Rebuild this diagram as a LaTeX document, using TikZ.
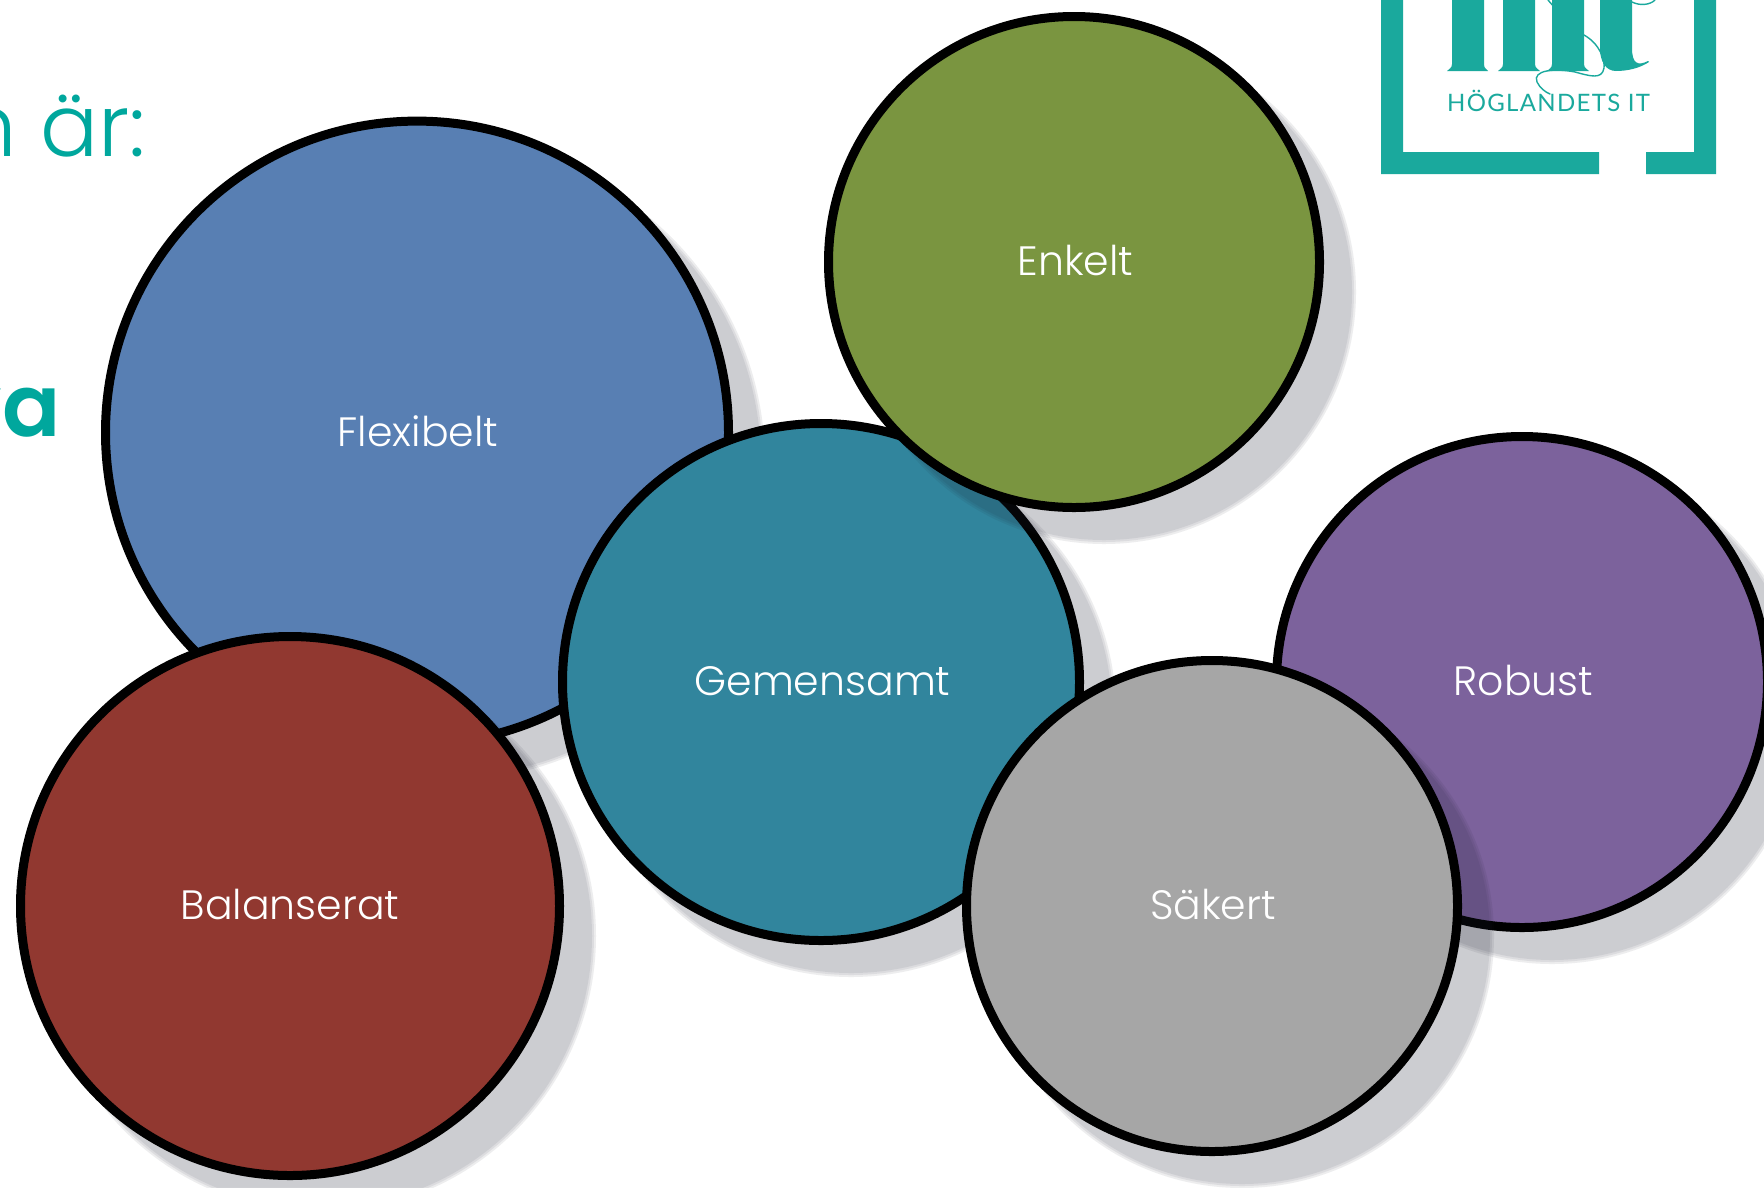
\documentclass[tikz,border=0pt]{standalone}
\usepackage{fontspec}
\setmainfont{Poppins}[UprightFont=* Light,BoldFont=* SemiBold]
\newfontfamily\logofont[LetterSpace=5.5]{Lato}
\definecolor{flexcol}{HTML}{587FB3}
\definecolor{balcol}{HTML}{913830}
\definecolor{gemcol}{HTML}{31859D}
\definecolor{enkcol}{HTML}{7A9540}
\definecolor{robcol}{HTML}{7C629C}
\definecolor{sakcol}{HTML}{A6A6A6}
\definecolor{titlecol}{HTML}{00A79D}
\definecolor{logocol}{HTML}{1AA99D}
\definecolor{shadowcol}{HTML}{1C2032}
\tikzset{
  bubble/.style={circle,draw=black,line width=9pt,inner sep=0pt,text=white,text height=27pt,text depth=0pt,font=\fontsize{41}{44}\selectfont},
  bubbleshadow/.style={fill=shadowcol,fill opacity=.08,draw=none},
  titletext/.style={text=titlecol,inner sep=0pt,anchor=base east},
  logopart/.style={fill=logocol,draw=none},
  logoline/.style={draw=logocol,line width=1.4pt,line cap=round}
}
\newcommand{\shadowed}[6]{%
  \fill[bubbleshadow] (#2+30,#3+30) circle[radius=#4+6.5];
  \fill[bubbleshadow] (#2+30,#3+30) circle[radius=#4+4.5];
  \fill[bubbleshadow] (#2+30,#3+30) circle[radius=#4+2.5];
  \node[bubble,fill=#5,minimum size=2*#4] (#1) at (#2,#3) {#6};
}
\begin{document}
\begin{tikzpicture}[x=1pt,y=-1pt]
\useasboundingbox (0,0) rectangle (1764,1187);
\clip (0,0) rectangle (1764,1187);
\fill[white] (0,0) rectangle (1764,1187);
% title fragments
\node[titletext,font=\fontsize{86}{90}\selectfont] (title1) at (146,156) {n är:};
\node[titletext,font=\fontsize{86}{90}\bfseries] (title2) at (58,436) {\kern-3pt va\kern-3pt};
% logo
\fill[logopart] (1381,0) -- (1403,0) -- (1403,152) -- (1599,152) -- (1599,174) -- (1381,174) -- cycle;
\fill[logopart] (1694,0) -- (1716,0) -- (1716,174) -- (1646,174) -- (1646,152) -- (1694,152) -- cycle;
\fill[logopart] (1452,0) -- (1484,0) -- (1484,64) .. controls (1484,68) and (1486,69) .. (1488,71) -- (1447,71) .. controls (1449,69) and (1452,68) .. (1452,64) -- cycle;
\fill[logopart] (1503,0) -- (1535,0) -- (1535,64) .. controls (1535,68) and (1538,69) .. (1540,71) -- (1498,71) .. controls (1500,69) and (1503,68) .. (1503,64) -- cycle;
\fill[logopart] (1552,0) -- (1584,0) -- (1584,64) .. controls (1584,68) and (1587,69) .. (1589,71) -- (1547,71) .. controls (1549,69) and (1552,68) .. (1552,64) -- cycle;
\fill[logopart] (1600,0) -- (1632,0) -- (1632,48) .. controls (1632,64) and (1638,66) .. (1648,61) -- (1649,62) .. controls (1640,68) and (1628,71) .. (1616,71) .. controls (1606,71) and (1600,62) .. (1600,48) -- cycle;
\draw[logoline] (1548,0) .. controls (1550,2) and (1552,5) .. (1555,8);
\draw[logoline] (1632,2) .. controls (1640,6) and (1650,5) .. (1655,0);
\draw[logoline] (1584,35) .. controls (1600,44) and (1605,60) .. (1604,68) .. controls (1602,80) and (1590,76) .. (1575,72) .. controls (1555,68) and (1532,70) .. (1537,82) .. controls (1540,88) and (1545,92) .. (1550,94);
\node[text=logocol,inner sep=0pt,anchor=base,font=\logofont\fontsize{24}{26}\selectfont] (logotext) at (1548.5,111) {HÖGLANDETS IT};
% bubbles
\shadowed{flex}{417}{432.6}{311.5}{flexcol}{\kern2pt Flexibelt}
\shadowed{gem}{821}{682}{258.5}{gemcol}{\kern3pt Gemensamt}
\shadowed{bal}{290}{906}{269.5}{balcol}{Balanserat}
\shadowed{enk}{1074}{262}{245.5}{enkcol}{\kern3pt Enkelt}
\shadowed{rob}{1522}{682}{245.5}{robcol}{\kern3pt Robust}
\shadowed{sak}{1212}{906}{245.5}{sakcol}{\kern2pt Säkert}
\end{tikzpicture}
\end{document}
